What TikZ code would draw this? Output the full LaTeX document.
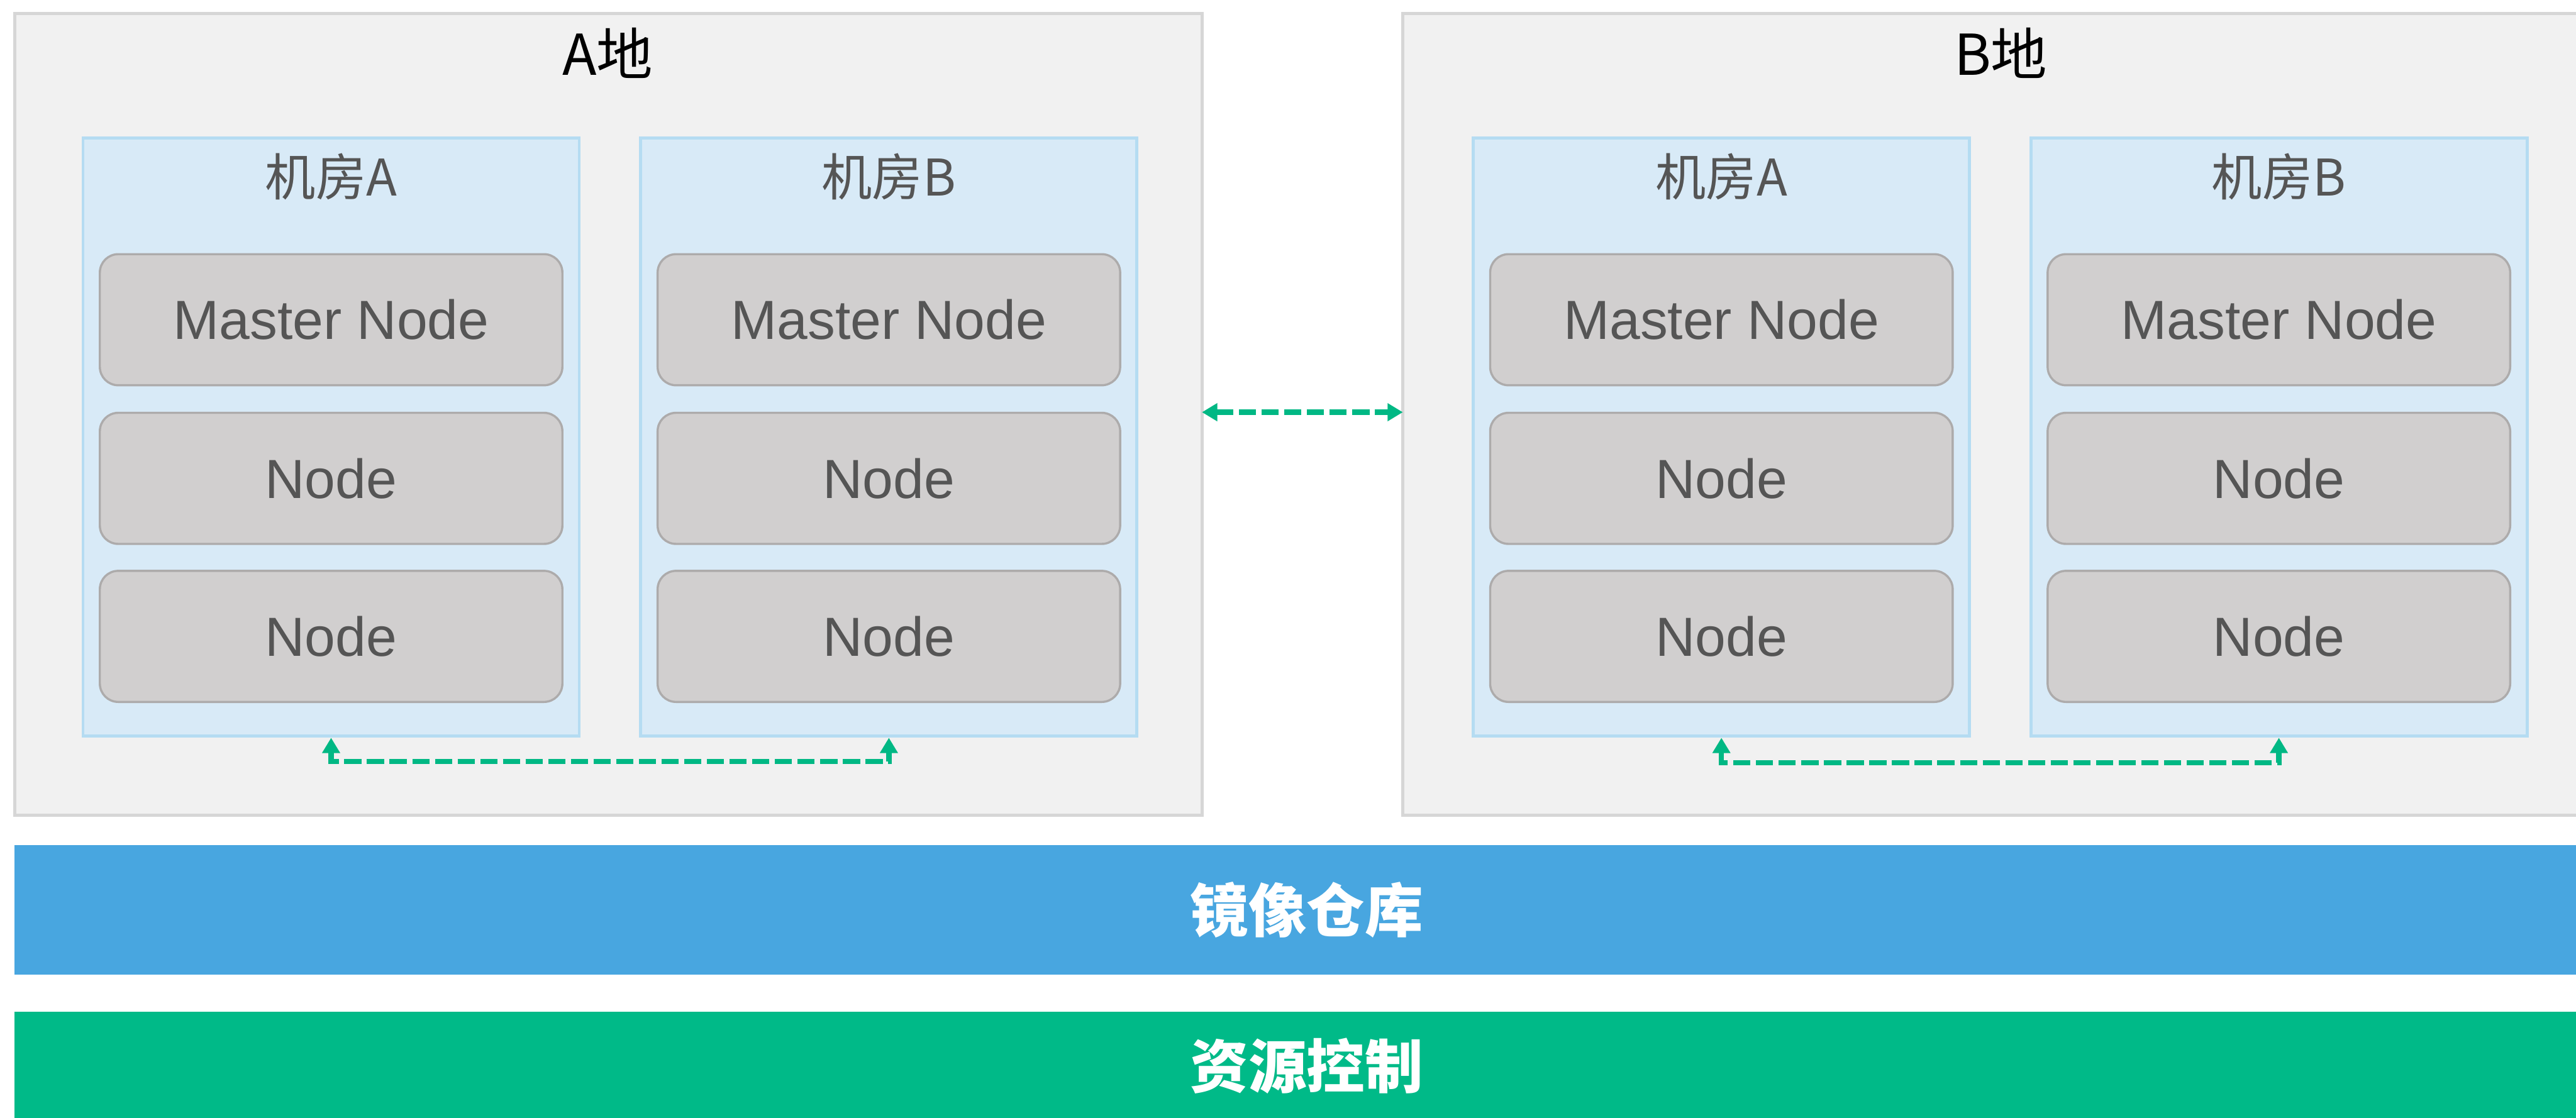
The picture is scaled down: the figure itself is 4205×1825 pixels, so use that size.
\documentclass[tikz,border=0pt]{standalone}
\usepackage{fontspec}
\setmainfont{Liberation Sans}
\newfontfamily\cjk{Noto Sans CJK SC}
\usetikzlibrary{arrows.meta}

\definecolor{siteFill}{HTML}{F1F1F1}
\definecolor{siteLine}{HTML}{D6D6D6}
\definecolor{roomFill}{HTML}{D8EAF7}
\definecolor{roomLine}{HTML}{B5DCF2}
\definecolor{nodeFill}{HTML}{D1CFCF}
\definecolor{nodeLine}{HTML}{ADABAB}
\definecolor{nodeText}{HTML}{555555}
\definecolor{repoBlue}{HTML}{48A6E0}
\definecolor{ctrlGreen}{HTML}{00BA88}
\definecolor{linkGreen}{HTML}{00B884}

\tikzset{
  site/.style={draw=siteLine, fill=siteFill, line width=1pt},
  room/.style={draw=roomLine, fill=roomFill, line width=1pt, inner sep=0pt,
    minimum width=162pt, minimum height=195.4pt},
  roomlabel/.style={text=nodeText, font=\cjk\fontsize{16.5pt}{18pt}\selectfont, inner sep=0pt},
  sitelabel/.style={text=black, font=\cjk\fontsize{18.4pt}{20pt}\selectfont, inner sep=0pt},
  srv/.style={draw=nodeLine, fill=nodeFill, line width=0.7pt, rounded corners=6pt,
    minimum width=151pt, minimum height=42.8pt, inner sep=0pt,
    text=nodeText, font=\fontsize{18pt}{20pt}\selectfont},
  bar/.style={inner sep=0pt, text=white, font=\cjk\bfseries\fontsize{19pt}{21pt}\selectfont},
  link/.style={draw=linkGreen, line width=1.7pt, dash pattern=on 5.6pt off 1.8pt,
    {Triangle[length=5pt,width=5.6pt]}-{Triangle[length=5pt,width=5.6pt]}},
}

\begin{document}
\begin{tikzpicture}[x=0.2pt, y=-0.2pt]
\useasboundingbox (0,0) rectangle (4205,1825);
\fill[white] (0,0) rectangle (4205,1825);

% two sites
\draw[site] (24,22) rectangle (1962,1331);
\draw[site] (2290,22) rectangle (4280,1331);
\coordinate (siteAe) at (1962,673);
\coordinate (siteBw) at (2290,673);
\node[sitelabel] (titleA) at (992,87) {A地};
\node[sitelabel] (titleB) at (3266,87) {B地};

% machine rooms
\node[room] (aRa) at (540.5,713.5) {};
\node[room] (aRb) at (1451,713.5) {};
\node[room] (bRa) at (2810,713.5) {};
\node[room] (bRb) at (3720,713.5) {};

\node[roomlabel] (aRaT) at (540.5,288) {机房A};
\node[roomlabel] (aRbT) at (1451,288) {机房B};
\node[roomlabel] (bRaT) at (2810,288) {机房A};
\node[roomlabel] (bRbT) at (3720,288) {机房B};

% servers: one master and two workers per room
\foreach \r in {aRa,aRb,bRa,bRb}{
  \node[srv] (\r m)  at ([yshift=38.3pt]\r.center) {Master Node};
  \node[srv] (\r n1) at ([yshift=-13.5pt]\r.center) {Node};
  \node[srv] (\r n2) at ([yshift=-65.1pt]\r.center) {Node};
}

% links
\draw[link] (siteAe) -- (siteBw);
\draw[link] (aRa.south) -- ++(0,39) -| (aRb.south);
\draw[link] (bRa.south) -- ++(0,41) -| (bRb.south);

% shared layers
\fill[repoBlue] (24,1380) rectangle (4280,1591);
\node[bar] (repo) at (2133,1486) {镜像仓库};
\fill[ctrlGreen] (24,1652) rectangle (4280,1900);
\node[bar] (ctrl) at (2133,1740) {资源控制};
\end{tikzpicture}
\end{document}
